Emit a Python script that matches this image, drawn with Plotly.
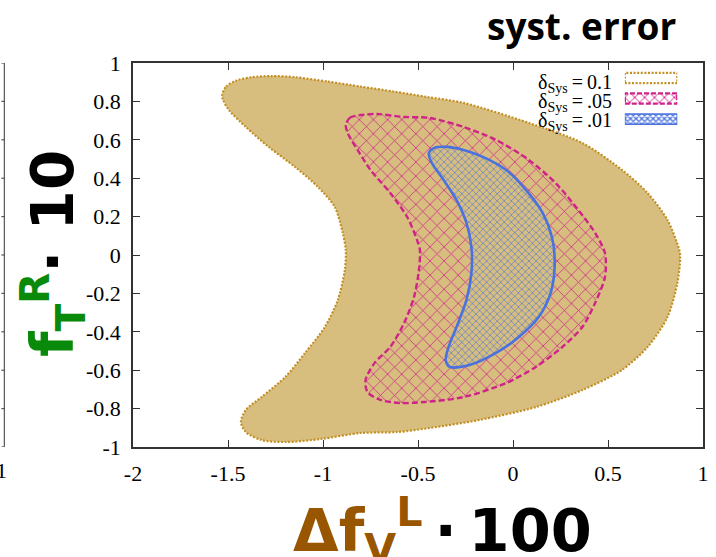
import plotly.graph_objects as go

# Allowed-region boundaries in the (Δf_V^L·100, f_T^R·10) plane
outer_x = [-1.531, -1.510, -1.458, -1.375, -1.271, -1.146, -0.974, -0.802, -0.625, -0.453,
           -0.260, 0.083, 0.365, 0.573, 0.708, 0.813, 0.875, 0.880, 0.865, 0.813,
           0.708, 0.573, 0.365, 0.120, -0.177, -0.438, -0.609, -0.802, -1.010, -1.198,
           -1.323, -1.406, -1.432, -1.406, -1.323, -1.198, -1.094, -0.990, -0.922, -0.885,
           -0.880, -0.896, -0.938, -1.026, -1.146, -1.286, -1.406, -1.495, -1.526]
outer_y = [0.833, 0.877, 0.908, 0.926, 0.932, 0.926, 0.903, 0.877, 0.851, 0.823,
           0.792, 0.688, 0.583, 0.443, 0.323, 0.182, 0.026, -0.016, -0.146, -0.323,
           -0.479, -0.599, -0.703, -0.792, -0.859, -0.901, -0.922, -0.927, -0.958, -0.974,
           -0.964, -0.922, -0.870, -0.807, -0.740, -0.635, -0.510, -0.375, -0.234, -0.078,
           0.026, 0.115, 0.250, 0.354, 0.458, 0.563, 0.667, 0.755, 0.807]

mid_x = [-0.880, -0.859, -0.802, -0.714, -0.573, -0.438, -0.260, -0.089, 0.083, 0.224,
         0.344, 0.432, 0.484, 0.484, 0.432, 0.365, 0.260, 0.120, -0.036, -0.260,
         -0.469, -0.594, -0.698, -0.766, -0.776, -0.729, -0.646, -0.573, -0.521, -0.495,
         -0.490, -0.505, -0.557, -0.646, -0.750, -0.818, -0.870]
mid_y = [0.677, 0.714, 0.729, 0.734, 0.719, 0.714, 0.667, 0.599, 0.495, 0.375,
         0.234, 0.115, 0.010, -0.115, -0.250, -0.375, -0.479, -0.583, -0.667, -0.740,
         -0.766, -0.771, -0.755, -0.714, -0.651, -0.563, -0.479, -0.354, -0.219, -0.078,
         0.026, 0.078, 0.198, 0.323, 0.443, 0.547, 0.635]

inner_x = [-0.443, -0.417, -0.349, -0.260, -0.156, -0.036, 0.068, 0.156, 0.208, 0.219,
           0.198, 0.135, 0.031, -0.089, -0.229, -0.333, -0.354, -0.339, -0.297, -0.245,
           -0.219, -0.219, -0.245, -0.297, -0.365, -0.427]
inner_y = [0.531, 0.557, 0.563, 0.547, 0.510, 0.443, 0.339, 0.219, 0.078, -0.063,
           -0.198, -0.323, -0.427, -0.510, -0.573, -0.583, -0.547, -0.479, -0.375, -0.234,
           -0.094, 0.042, 0.167, 0.286, 0.391, 0.479]

x_tickvals = [-2, -1.5, -1, -0.5, 0, 0.5, 1]
x_ticktext = ["-2", "-1.5", "-1", "-0.5", "0", "0.5", "1"]
y_tickvals = [-1, -0.8, -0.6, -0.4, -0.2, 0, 0.2, 0.4, 0.6, 0.8, 1]
y_ticktext = ["-1", "-0.8", "-0.6", "-0.4", "-0.2", "0", "0.2", "0.4", "0.6", "0.8", "1"]

legend_values = ["0.1", ".05", ".01"]

TAN = "#D7BE7F"
GOLD = "#C38F22"
MAGENTA = "#D0238A"
BLUE = "#4A72DE"
GREEN = "#0A8A0A"
BROWN = "#985600"

W, H = 716, 557
L, R, T, B = 133, 7, 63, 110


def px_x(p):
    return (p - L) / (W - L - R)


def px_y(p):
    return (H - B - p) / (H - T - B)


def closed(v):
    return list(v) + [v[0]]


fig = go.Figure()

fig.add_trace(go.Scatter(
    x=closed(outer_x), y=closed(outer_y), mode="lines", fill="toself",
    fillcolor=TAN, line=dict(color=GOLD, width=2.2, dash="2px,1.6px", shape="spline", smoothing=0.8),
    hoverinfo="skip"))

fig.add_trace(go.Scatter(
    x=closed(mid_x), y=closed(mid_y), mode="lines", fill="toself",
    fillcolor=TAN,
    fillpattern=dict(shape="x", fgcolor=MAGENTA, fgopacity=1, size=10, solidity=0.15,
                     fillmode="overlay"),
    line=dict(color=MAGENTA, width=2.4, dash="6px,3px", shape="spline", smoothing=0.8),
    hoverinfo="skip"))

fig.add_trace(go.Scatter(
    x=closed(inner_x), y=closed(inner_y), mode="lines", fill="toself",
    fillcolor=TAN,
    fillpattern=dict(shape="x", fgcolor=BLUE, fgopacity=1, size=5, solidity=0.22,
                     fillmode="overlay"),
    line=dict(color=BLUE, width=2.6, shape="spline", smoothing=0.8),
    hoverinfo="skip"))

# Legend keys drawn in a small overlay axis, one row per entry
key_styles = [
    dict(fillcolor="rgba(255,255,255,0)", line=dict(color=GOLD, width=2.2, dash="2px,1.6px"), fillpattern=None),
    dict(fillcolor="white", line=dict(color=MAGENTA, width=2.4, dash="5px,2px"),
         fillpattern=dict(shape="x", fgcolor=MAGENTA, fgopacity=1, size=7, solidity=0.25,
                          fillmode="overlay")),
    dict(fillcolor="white", line=dict(color=BLUE, width=1.5),
         fillpattern=dict(shape="x", fgcolor=BLUE, fgopacity=1, size=4, solidity=0.55,
                          fillmode="overlay")),
]
n_rows = len(legend_values)
key_top, key_step = 78.0, 20.5
half = 0.25
for i, st in enumerate(key_styles):
    yc = n_rows - 1 - i
    tr = go.Scatter(
        x=[0, 1, 1, 0, 0], y=[yc - half, yc - half, yc + half, yc + half, yc - half],
        mode="lines", fill="toself", fillcolor=st["fillcolor"], line=st["line"],
        xaxis="x2", yaxis="y2", hoverinfo="skip")
    if st["fillpattern"] is not None:
        tr.fillpattern = st["fillpattern"]
    fig.add_trace(tr)

text_top, text_step = 83.0, 19.2
annotations = []
for i, val in enumerate(legend_values):
    lab = f"δ<sub><span style='font-size:14px'>Sys</span></sub>\u2009=\u2009{val}"
    annotations.append(dict(
        text=lab, xref="paper", yref="paper", x=px_x(619), y=px_y(text_top + text_step * i),
        xanchor="right", yanchor="middle", showarrow=False,
        font=dict(family="Liberation Serif", size=20, color="black")))

annotations.append(dict(
    text="<b>syst. error</b>", xref="paper", yref="paper", x=px_x(684), y=px_y(26),
    xanchor="right", yanchor="middle", showarrow=False,
    font=dict(family="Open Sans", size=37, color="black")))

annotations.append(dict(
    text=f"<b><span style='color:{GREEN}'>f<sub>T</sub><sup>R</sup></span>· 10</b>",
    xref="paper", yref="paper", x=px_x(52), y=px_y(253), textangle=-90,
    xanchor="center", yanchor="middle", showarrow=False,
    font=dict(family="DejaVu Sans", size=58, color="black")))

annotations.append(dict(
    text=f"<b><span style='color:{BROWN}'>Δf<sub>V</sub><sup>L</sup></span>\u2009·\u2009100</b>",
    xref="paper", yref="paper", x=px_x(446), y=px_y(530),
    xanchor="center", yanchor="middle", showarrow=False,
    font=dict(family="DejaVu Sans", size=59, color="black")))

# fragment of the neighbouring panel at the left edge
annotations.append(dict(
    text="1", xref="paper", yref="paper", x=px_x(0), y=px_y(470),
    xanchor="center", yanchor="middle", showarrow=False,
    font=dict(family="Liberation Serif", size=22, color="black")))

shapes = [dict(type="line", xref="paper", yref="paper", x0=px_x(3), x1=px_x(3),
               y0=px_y(63), y1=px_y(447), line=dict(color="#555555", width=1.2))]
for v in y_tickvals:
    shapes.append(dict(type="line", xref="paper", yref="y", x0=px_x(0), x1=px_x(3),
                       y0=v, y1=v, line=dict(color="#555555", width=1.2)))

axis_font = dict(family="Liberation Serif", size=22, color="black")
fig.update_layout(
    width=W, height=H,
    margin=dict(l=L, r=R, t=T, b=B, pad=0),
    paper_bgcolor="white", plot_bgcolor="white",
    showlegend=False,
    xaxis=dict(range=[-2, 1], tickvals=x_tickvals, ticktext=x_ticktext, ticks="inside",
               ticklen=7, tickwidth=1.3, tickcolor="#333333", showline=True, linecolor="#333333",
               linewidth=1.5, mirror="ticks", showgrid=False, zeroline=False,
               tickfont=axis_font, ticklabelstandoff=6),
    yaxis=dict(range=[-1, 1], tickvals=y_tickvals, ticktext=y_ticktext, ticks="inside",
               ticklen=7, tickwidth=1.3, tickcolor="#333333", showline=True, linecolor="#333333",
               linewidth=1.5, mirror="ticks", showgrid=False, zeroline=False,
               tickfont=axis_font, ticklabelstandoff=6),
    xaxis2=dict(domain=[px_x(630), px_x(683)], range=[0, 1], visible=False,
                anchor="y2", fixedrange=True),
    yaxis2=dict(domain=[px_y(key_top + key_step * (n_rows - 1) + key_step / 2),
                        px_y(key_top - key_step / 2)],
                range=[-0.5, n_rows - 0.5], visible=False, anchor="x2", fixedrange=True),
    annotations=annotations,
    shapes=shapes,
)

fig.write_html("out.html")
